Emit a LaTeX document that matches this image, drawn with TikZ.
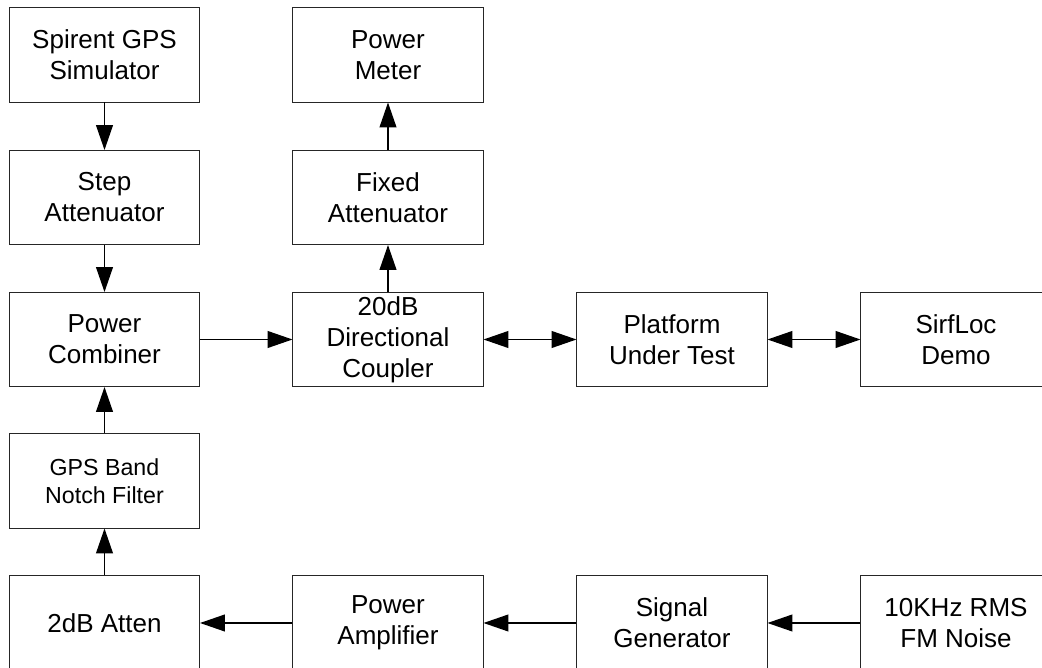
\documentclass[tikz,border=0pt]{standalone}
\usepackage{fontspec}
\setmainfont{Liberation Sans}
\usetikzlibrary{arrows.meta}

\begin{document}
\begin{tikzpicture}[x=0.025cm, y=-0.025cm,
    block/.style={draw=black!85, line width=0.7pt, minimum width=4.75cm, minimum height=2.35cm,
      inner sep=0pt, align=center, font=\fontsize{18.5}{22}\selectfont},
    small/.style={font=\fontsize{16.5}{19.9}\selectfont},
    link/.style={-{Triangle[length=0.62cm, width=0.42cm]}, line width=0.9pt},
    both/.style={{Triangle[length=0.62cm, width=0.42cm]}-{Triangle[length=0.62cm, width=0.42cm]}, line width=0.9pt}]
  \clip (0,0) rectangle (1042,668);
  % Left column
  \node[block] (sim) at (104.5,55) {Spirent GPS\\Simulator};
  \node[block] (step) at (104.5,197.5) {Step\\Attenuator};
  \node[block] (comb) at (104.5,339.5) {Power\\Combiner};
  \node[block, small] (notch) at (104.5,481) {GPS Band\\Notch Filter};
  \node[block] (atten) at (104.5,623) {2dB Atten};
  % Coupler column
  \node[block] (meter) at (388,55) {Power\\Meter};
  \node[block] (fixed) at (388,197.5) {Fixed\\Attenuator};
  \node[block] (coupler) at (388,339.5) {20dB\\Directional\\Coupler};
  \node[block] (amp) at (388,623) {Power\\Amplifier};
  % Right side
  \node[block] (put) at (672,339.5) {Platform\\Under Test};
  \node[block] (demo) at (956,339.5) {SirfLoc\\Demo};
  \node[block] (siggen) at (672,623) {Signal\\Generator};
  \node[block] (noise) at (956,623) {10KHz RMS\\FM Noise};
  % GPS path
  \draw[link] (sim) -- (step);
  \draw[link] (step) -- (comb);
  \draw[link] (comb) -- (coupler);
  \draw[link] (coupler) -- (fixed);
  \draw[link] (fixed) -- (meter);
  \draw[both] (coupler) -- (put);
  \draw[both] (put) -- (demo);
  % Noise path
  \draw[link] (noise) -- (siggen);
  \draw[link] (siggen) -- (amp);
  \draw[link] (amp) -- (atten);
  \draw[link] (atten) -- (notch);
  \draw[link] (notch) -- (comb);
\end{tikzpicture}
\end{document}
